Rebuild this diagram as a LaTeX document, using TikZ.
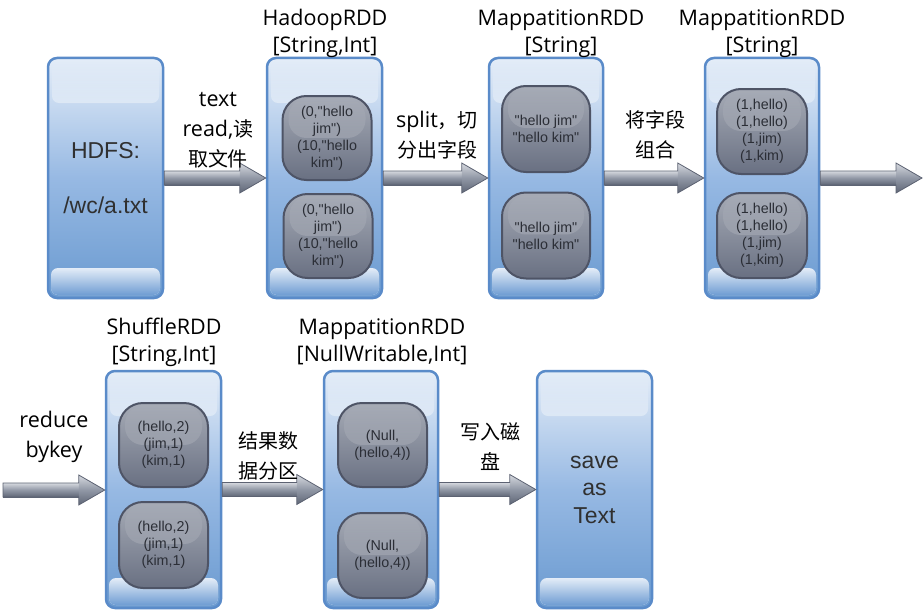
\documentclass[tikz,border=0pt]{standalone}
\usepackage{fontspec}
\setmainfont{Open Sans}
\newfontfamily\cjk{Noto Sans CJK SC}[Scale=0.93]
\newfontfamily\boxfont{Liberation Sans}
\usetikzlibrary{calc,fadings}
\definecolor{obline}{HTML}{5A8BC9}
\definecolor{obtop}{HTML}{E4EDF8}
\definecolor{obmid}{HTML}{97B9E3}
\definecolor{obbot}{HTML}{6A9AD0}
\definecolor{bandtop}{HTML}{6F9DD3}
\definecolor{bandbot}{HTML}{E4EDF8}
\definecolor{ibline}{HTML}{4E5466}
\definecolor{ibtop}{HTML}{A6ABB6}
\definecolor{ibbot}{HTML}{697082}
\definecolor{arrtop}{HTML}{D6D9DF}
\definecolor{arrmid}{HTML}{9097A5}
\definecolor{arrbot}{HTML}{5F6676}
\definecolor{arrline}{HTML}{5C6272}
\definecolor{boxtext}{HTML}{303030}
\definecolor{ibtext}{HTML}{2B2E36}
\tikzset{
  outerbox/.style={rounded corners=9pt, draw=obline, line width=2.5pt,
    top color=obtop, bottom color=obbot, middle color=obmid,
    path picture={
      \fill[bandbot, rounded corners=7pt]
        ([shift={(3pt,3pt)}]path picture bounding box.south west) rectangle
        ([shift={(-3pt,30pt)}]path picture bounding box.south east);
      \fill[bandtop, path fading=north, rounded corners=7pt]
        ([shift={(3pt,3pt)}]path picture bounding box.south west) rectangle
        ([shift={(-3pt,30pt)}]path picture bounding box.south east);
      \fill[white, opacity=0.4, path fading=north, rounded corners=7pt]
        ([shift={(4pt,-4pt)}]path picture bounding box.north west) rectangle
        ([shift={(-4pt,-45pt)}]path picture bounding box.north east);
    },
    text=boxtext, font=\boxfont\fontsize{23}{27.5}\selectfont, align=center},
  innerbox/.style={rounded corners=24pt, draw=ibline, line width=2pt,
    top color=ibtop, bottom color=ibbot,
    minimum width=89, minimum height=84, inner sep=0pt,
    path picture={
      \fill[white, opacity=0.3, path fading=north, rounded corners=18pt]
        ([shift={(6pt,-3pt)}]path picture bounding box.north west) rectangle
        ([shift={(-6pt,-42pt)}]path picture bounding box.north east);
    },
    text=ibtext, font=\boxfont\fontsize{14.3}{17}\selectfont, align=center},
  lbl/.style={font=\fontsize{21.5}{30}\selectfont, align=center, inner sep=0pt, text=black},
  ttl/.style={font=\fontsize{21.5}{27}\selectfont, align=center, inner sep=0pt, text=black},
  arrshaft/.style={top color=arrtop, bottom color=arrbot, middle color=arrmid},
  arrhead/.style={top color=arrtop, bottom color=arrbot, middle color=arrmid},
  arroutline/.style={draw=arrline, line width=0.8pt, line join=miter},
}
\newcommand\blockarrow[2]{%
  \path[arrshaft] let \p1=(#1), \p2=(#2) in
    (\x1,\y1+7pt) rectangle (\x2-26pt,\y1-7pt);
  \path[arrhead] let \p1=(#1), \p2=(#2) in
    (\x2-26pt,\y1+15pt) -- (\x2,\y1) -- (\x2-26pt,\y1-15pt) -- cycle;
  \draw[arroutline] let \p1=(#1), \p2=(#2) in
    (\x1,\y1+7pt) -- (\x2-26pt,\y1+7pt) -- (\x2-26pt,\y1+15pt) -- (\x2,\y1)
    -- (\x2-26pt,\y1-15pt) -- (\x2-26pt,\y1-7pt) -- (\x1,\y1-7pt) -- cycle;
}
\begin{document}
\begin{tikzpicture}[x=1pt,y=-1pt]
\useasboundingbox (0,0) rectangle (923,610);
% ---------- row 1 ----------
\node[outerbox, minimum width=115, minimum height=240] (hdfs) at (105.5,178) {HDFS:\\[27.5pt]/wc/a.txt};
\node[outerbox, minimum width=115, minimum height=240] (hadoop) at (324.5,178) {};
\node[outerbox, minimum width=114, minimum height=240] (mapa) at (546,178) {};
\node[outerbox, minimum width=114, minimum height=240] (mapb) at (762,178) {};
\coordinate (out1) at (922,178);

\node[innerbox] (h1) at (327,138) {(0,"hello\\jim")\\(10,"hello\\kim")};
\node[innerbox] (h2) at (328,236) {(0,"hello\\jim")\\(10,"hello\\kim")};
\node[innerbox, minimum width=88, minimum height=86] (ma1) at (546,129) {"hello jim"\\"hello kim"};
\node[innerbox, minimum width=88, minimum height=86] (ma2) at (546,235.5) {"hello jim"\\"hello kim"};
\node[innerbox, minimum width=90, minimum height=85] (mb1) at (762,131.5) {(1,hello)\\(1,hello)\\(1,jim)\\(1,kim)};
\node[innerbox, minimum width=90, minimum height=85] (mb2) at (762,235.5) {(1,hello)\\(1,hello)\\(1,jim)\\(1,kim)};

\node[ttl] (tHadoop) at (325,33.5) {HadoopRDD\\{[String,Int]}};
\node[ttl] (tMapa) at (561,33.5) {MappatitionRDD\\{[String]}};
\node[ttl] (tMapb) at (762,33.5) {MappatitionRDD\\{[String]}};

\blockarrow{hdfs.east}{hadoop.west}
\blockarrow{hadoop.east}{mapa.west}
\blockarrow{mapa.east}{mapb.west}
\blockarrow{mapb.east}{out1}

\node[lbl] (l1) at (218,130) {text\\read,{\cjk 读}\\{\cjk 取文件}};
\node[lbl] (l2) at (437,135) {split{\cjk ，切}\\{\cjk 分出字段}};
\node[lbl] (l3) at (655,135) {\cjk 将字段\\\cjk 组合};

% ---------- row 2 ----------
\coordinate (in2) at (3,490);
\node[outerbox, minimum width=115, minimum height=237] (shuffle) at (163.5,489.5) {};
\node[outerbox, minimum width=114, minimum height=237] (mapc) at (381,489.5) {};
\node[outerbox, minimum width=115, minimum height=237] (save) at (594.5,489.5) {save\\as\\Text};

\node[innerbox] (s1) at (163.5,445) {(hello,2)\\(jim,1)\\(kim,1)};
\node[innerbox, minimum height=86] (s2) at (163.5,545) {(hello,2)\\(jim,1)\\(kim,1)};
\node[innerbox] (n1) at (382.5,445) {(Null,\\(hello,4))};
\node[innerbox, minimum height=85] (n2) at (382.5,555.5) {(Null,\\(hello,4))};

\node[ttl] (tShuffle) at (164,342) {ShuffleRDD\\{[String,Int]}};
\node[ttl] (tMapc) at (382,342) {MappatitionRDD\\{[NullWritable,Int]}};

\blockarrow{in2}{shuffle.west}
\blockarrow{shuffle.east}{mapc.west}
\blockarrow{mapc.east}{save.west}

\node[lbl] (l4) at (54,437) {reduce\\bykey};
\node[lbl] (l5) at (268,456) {\cjk 结果数\\\cjk 据分区};
\node[lbl] (l6) at (490,447) {\cjk 写入磁\\\cjk 盘};
\end{tikzpicture}
\end{document}
